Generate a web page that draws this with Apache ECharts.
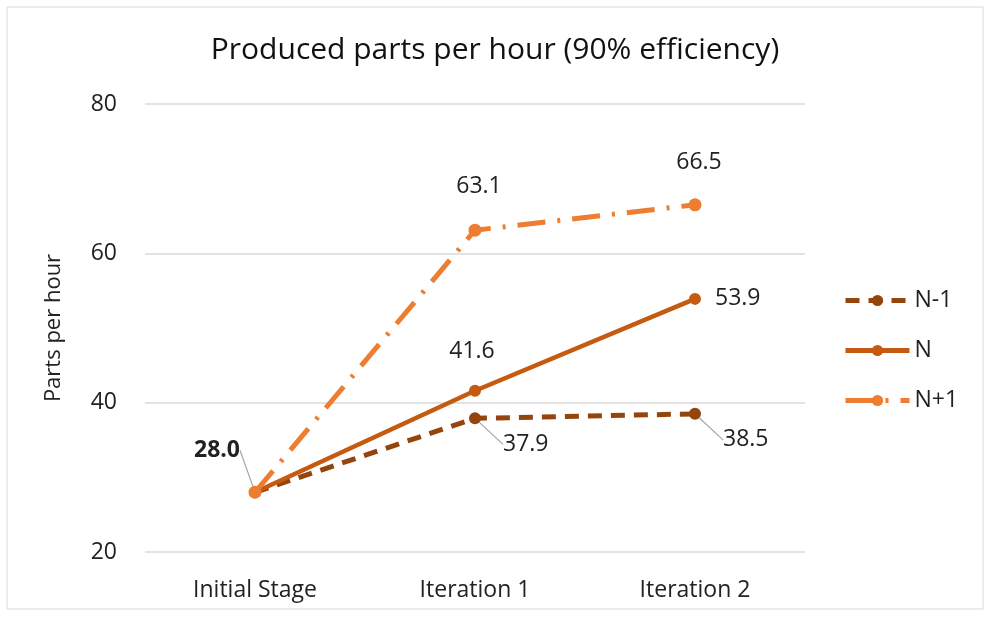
<!DOCTYPE html>
<html lang="en">
<head>
    <meta charset="UTF-8">
    <title>Produced parts per hour</title>
    <script src="https://cdn.jsdelivr.net/npm/echarts@6/dist/echarts.min.js"></script>
    <style type="text/css">
        body{
            margin:0;
            background:#fff;
        }
    </style>
</head>
<body>
<div id="main" style="width: 990px;height:618px;"></div>
<script type="text/javascript">
    var categories = ['Initial Stage', 'Iteration 1', 'Iteration 2'];
    var seriesNames = ['N-1', 'N', 'N+1'];
    var nMinus1 = [28.0, 37.9, 38.5];
    var nZero = [28.0, 41.6, 53.9];
    var nPlus1 = [28.0, 63.1, 66.5];
    var yTicks = [20, 40, 60, 80];

    var font = 'Open Sans';
    var txt = '#222';
    var leader = {show: true, lineStyle: {color: '#a6a6a6', width: 1.2}};

    // label placement per point: position, distance, bold, leader line
    function points(values, place) {
        return values.map(function (v, i) {
            var p = place[i];
            if (!p) {
                return {value: v, label: {show: false}, labelLine: {show: false}};
            }
            var item = {value: v, label: {show: true, position: p.pos, distance: p.dist || 8}};
            if (p.bold) item.label.fontWeight = 'bold';
            item.labelLine = {show: !!p.line};
            return item;
        });
    }

    var myChart = echarts.init(document.getElementById('main'));
    var baseLabel = {
        show: true, fontFamily: font, fontSize: 23, color: txt,
        formatter: function (p) { return p.value.toFixed(1); }
    };
    var option = {
        backgroundColor: '#fff',
        title: {
            text: 'Produced parts per hour (90% efficiency)',
            left: 'center',
            top: 30,
            textStyle: {fontFamily: font, fontSize: 30, fontWeight: 'normal', color: '#111'}
        },
        graphic: [{
            type: 'rect',
            shape: {x: 7, y: 7, width: 976, height: 602},
            style: {fill: 'none', stroke: '#d9d9d9', lineWidth: 1}
        }],
        legend: {
            orient: 'vertical',
            left: 838,
            top: 284,
            itemGap: 27,
            itemWidth: 64,
            itemHeight: 14,
            data: seriesNames,
            lineStyle: {width: 5},
            textStyle: {fontFamily: font, fontSize: 23, color: txt}
        },
        grid: {left: 145, right: 185, top: 104, bottom: 66},
        xAxis: {
            type: 'category',
            data: categories,
            axisLine: {show: false},
            axisTick: {show: false},
            axisLabel: {fontFamily: font, fontSize: 23, color: txt, margin: 27}
        },
        yAxis: {
            type: 'value',
            min: yTicks[0],
            max: yTicks[yTicks.length - 1],
            interval: 20,
            name: 'Parts per hour',
            nameLocation: 'middle',
            nameGap: 80,
            nameTextStyle: {fontFamily: font, fontSize: 22, color: txt},
            axisLabel: {fontFamily: font, fontSize: 23, color: txt, margin: 28},
            splitLine: {lineStyle: {color: '#d9d9d9', width: 1.5}}
        },
        series: [
            {
                type: 'line',
                name: 'N-1',
                z: 3,
                symbol: 'circle',
                symbolSize: 12,
                color: '#94450E',
                lineStyle: {width: 5, type: [14, 9], cap: 'butt'},
                label: baseLabel,
                labelLine: leader,
                labelLayout: function (p) {
                    if (p.dataIndex === 0) return {};
                    return {dx: 14, dy: 26};
                },
                data: points(nMinus1, [null, {pos: 'right', line: true}, {pos: 'right', line: true}])
            },
            {
                type: 'line',
                name: 'N',
                z: 4,
                symbol: 'circle',
                symbolSize: 12,
                color: '#C55A11',
                lineStyle: {width: 4.5},
                label: baseLabel,
                labelLine: leader,
                labelLayout: function (p) {
                    if (p.dataIndex === 1) return {dx: -3};
                    return {};
                },
                data: points(nZero, [null, {pos: 'top', dist: 22}, {pos: 'right', dist: 14}])
            },
            {
                type: 'line',
                name: 'N+1',
                z: 5,
                symbol: 'circle',
                symbolSize: 13,
                color: '#ED7D31',
                lineStyle: {width: 5, type: [28, 12, 3, 12], cap: 'butt'},
                label: baseLabel,
                labelLine: leader,
                labelLayout: function (p) {
                    if (p.dataIndex === 0) return {dx: -38, dy: -22};
                    return {dx: 4};
                },
                data: points(nPlus1, [{pos: 'top', dist: 2, bold: true, line: true}, {pos: 'top', dist: 26}, {pos: 'top', dist: 24}])
            }
        ]
    };
    myChart.setOption(option);
</script>
</body>
</html>
